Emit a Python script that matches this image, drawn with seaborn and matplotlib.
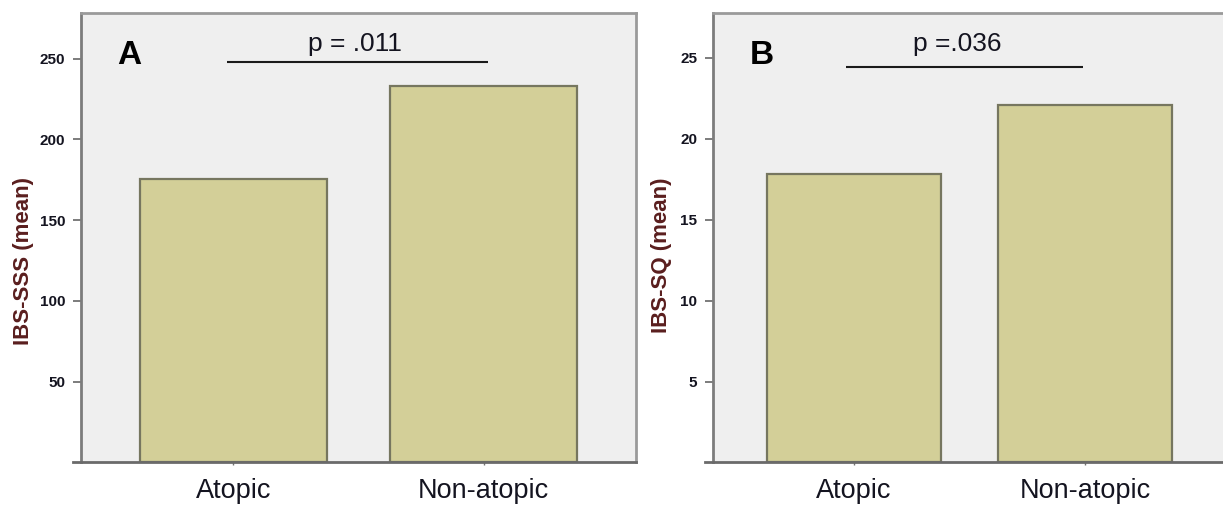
import matplotlib
matplotlib.use("Agg")
import matplotlib.pyplot as plt
import seaborn as sns
import pandas as pd

# ---- data -------------------------------------------------------------
groups = ["Atopic", "Non-atopic"]
sss_mean = [175.4, 233.3]          # IBS-SSS, mean per group
sq_mean = [17.8, 22.1]             # IBS-SQ, mean per group
sss_ticks = [50, 100, 150, 200, 250]
sq_ticks = [5, 10, 15, 20, 25]
panel_letters = ["A", "B"]
p_labels = ["p = .011", "p =.036"]
y_titles = ["IBS-SSS (mean)", "IBS-SQ (mean)"]

# ---- style ------------------------------------------------------------
sns.set_style("white")
plt.rcParams["font.family"] = ["Liberation Sans", "DejaVu Sans"]

BAR_FACE = "#d3cf98"
BAR_EDGE = "#76765f"
PANEL_BG = "#efefef"
FRAME = "#9a9a9a"
AXIS = "#727272"
TEXT = "#141420"
YLAB = "#5a1e1e"

W, H = 1223, 509
fig = plt.figure(figsize=(W / 100, H / 100), dpi=100)
fig.patch.set_facecolor("white")

panels = [
    dict(values=sss_mean, ticks=sss_ticks, ytop=278.1,
         rect=[81 / W, 0.0914, 555 / W, 0.8825],
         bracket=(-0.027, 1.017, 248.2), ptext=(0.487, 255.0),
         letter=(-0.417, 252.0), ylab=(-0.1045, 0.4486)),
    dict(values=sq_mean, ticks=sq_ticks, ytop=27.75,
         rect=[713.3 / W, 0.0914, 512.4 / W, 0.8825],
         bracket=(-0.036, 0.993, 24.45), ptext=(0.448, 25.44),
         letter=(-0.40, 25.16), ylab=(-0.1006, 0.462)),
]

for i, spec in enumerate(panels):
    ax = fig.add_axes(spec["rect"])
    ax.set_facecolor(PANEL_BG)
    df = pd.DataFrame({"group": groups, "value": spec["values"]})
    sns.barplot(data=df, x="group", y="value", ax=ax, color=BAR_FACE,
                saturation=1, width=0.75, edgecolor=BAR_EDGE, linewidth=1.6,
                errorbar=None, zorder=2)

    x_lo, x_hi = -0.609, 1.609
    ax.set_xlim(x_lo, x_hi)
    ax.set_ylim(0, spec["ytop"])
    ax.set_yticks(spec["ticks"])
    ax.set_yticklabels([str(t) for t in spec["ticks"]])
    for lbl in ax.get_yticklabels():
        lbl.set_fontweight("bold")
        lbl.set_color(TEXT)

    ax.tick_params(axis="y", direction="out", length=5.5, width=1.3,
                   color=AXIS, pad=6, labelsize=11, left=True)
    ax.tick_params(axis="x", direction="out", length=2.5, width=1.0,
                   color=AXIS, pad=9, labelsize=19.5, labelcolor=TEXT,
                   bottom=True)

    ax.set_xlabel("")
    ax.set_ylabel(y_titles[i], fontsize=16, fontweight="bold", color=YLAB,
                  ha="center", va="center")
    ax.yaxis.set_label_coords(*spec["ylab"])

    for side in ("top", "right"):
        ax.spines[side].set_color(FRAME)
        ax.spines[side].set_linewidth(2.0)
    ax.spines["left"].set_color("#7c7c7c")
    ax.spines["left"].set_linewidth(2.0)
    ax.spines["bottom"].set_color("#6a6a6a")
    ax.spines["bottom"].set_linewidth(2.0)
    unit = (spec["rect"][2] * W) / (x_hi - x_lo)
    ax.spines["bottom"].set_bounds(x_lo - 8.5 / unit, x_hi)

    # significance bracket and p-value
    bx0, bx1, by = spec["bracket"]
    ax.plot([bx0, bx1], [by, by], color="#1a1a1a", lw=1.5, zorder=3,
            solid_capstyle="butt")
    px, py = spec["ptext"]
    ax.text(px, py, p_labels[i], ha="center", va="baseline", fontsize=19,
            color=TEXT, zorder=3)

    # panel letter
    lx, ly = spec["letter"]
    ax.text(lx, ly, panel_letters[i], ha="center", va="center", fontsize=24,
            fontweight="bold", color="black", zorder=3)

fig.savefig("out.png", dpi=100, facecolor="white")
